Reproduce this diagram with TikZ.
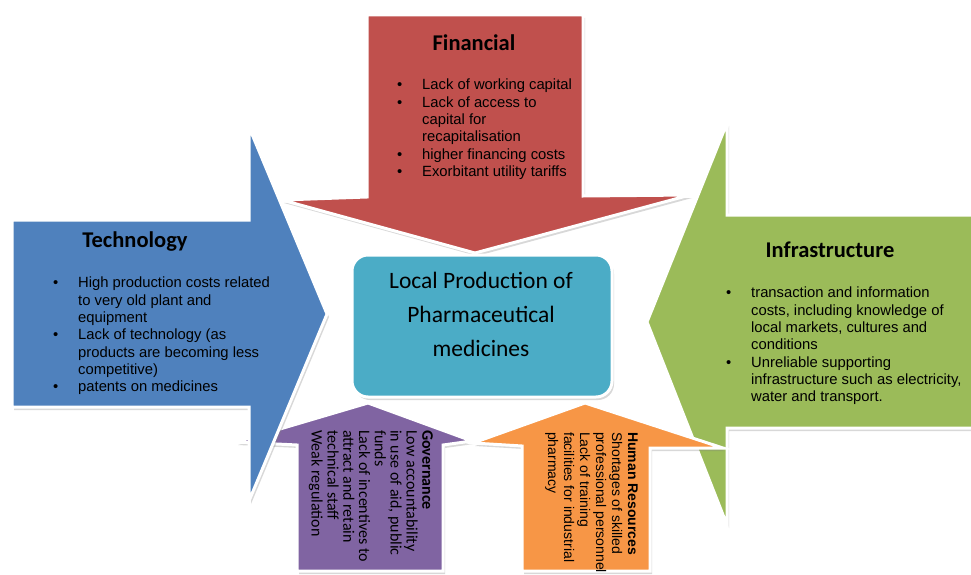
\documentclass[tikz,border=0pt]{standalone}
\usepackage{fontspec}
\setmainfont{Liberation Sans}
\newfontfamily\calfont{Carlito}
\usetikzlibrary{shadows}
\definecolor{finred}{HTML}{C0504D}
\definecolor{techblue}{HTML}{4F81BD}
\definecolor{infragreen}{HTML}{9BBB59}
\definecolor{hubteal}{HTML}{4BACC6}
\definecolor{govpurple}{HTML}{8064A2}
\definecolor{hrorange}{HTML}{F79646}
\newcommand{\bl}{\makebox[25pt][l]{\textbullet}}
\newcommand{\ind}{\hspace*{25pt}}
\tikzset{
	bigarrow/.style={draw=white, line width=3pt, line join=miter,
		drop shadow={shadow xshift=2pt, shadow yshift=-3pt, opacity=0.3}},
	heading/.style={font=\calfont\bfseries\fontsize{22.5}{26}\selectfont},
	items/.style={font=\fontsize{14.8}{17.3}\selectfont, align=left, inner sep=0pt, anchor=north west},
	sideways/.style={align=left, inner sep=0pt, anchor=north west, rotate=-90}
}
\begin{document}
\begin{tikzpicture}[x=1pt, y=-1pt]
	\clip (0,0) rectangle (971,575);
	\fill[white] (0,0) rectangle (971,575);

	\fill[finred, bigarrow] (367,15) -- (583,15) -- (583,196) -- (690,195) -- (475,253) -- (282,200) -- (367,197) -- cycle;
	\fill[govpurple, bigarrow] (368,403) -- (472,441) -- (443,445) -- (443,571) -- (297,571) -- (297,445) -- (236,442) -- cycle;
	\fill[techblue, bigarrow] (12,220) -- (249,220) -- (249,127) -- (327,314) -- (249,501) -- (249,407) -- (12,407) -- cycle;
	\fill[infragreen, bigarrow] (990,215) -- (727,215) -- (727,123) -- (647,322) -- (727,525) -- (727,428) -- (990,428) -- cycle;
	\fill[hrorange, bigarrow] (585,403) -- (723,448) -- (650,448) -- (650,571) -- (522,571) -- (522,446) -- (473,443) -- cycle;

	\node[heading] (fintitle) at (474,43) {Financial};
	\node[items] (finlist) at (397,79) {\bl Lack of working capital\\ \bl Lack of access to\\ \ind capital for\\ \ind recapitalisation\\ \bl higher financing costs\\ \bl Exorbitant utility tariffs};

	\node[heading] (techtitle) at (135,242) {Technology};
	\node[items] (techlist) at (53,277) {\bl High production costs related\\ \ind to very old plant and\\ \ind equipment\\ \bl Lack of technology (as\\ \ind products are becoming less\\ \ind competitive)\\ \bl patents on medicines};

	\node[heading] (infratitle) at (830,250) {Infrastructure};
	\node[items] (infralist) at (726,287) {\bl transaction and information\\ \ind costs, including knowledge of\\ \ind local markets, cultures and\\ \ind conditions\\ \bl Unreliable supporting\\ \ind infrastructure such as electricity,\\ \ind water and transport.};

	\node[sideways, font=\calfont\fontsize{16}{15.8}\selectfont] (govtext) at (433,430) {\textbf{Governance}\\ Low accountability\\ in use of aid, public\\ funds\\ Lack of incentives to\\ attract and retain\\ technical staff\\ Weak regulation};
	\node[sideways, font=\fontsize{14}{16}\selectfont] (hrtext) at (638,432) {\textbf{Human Resources}\\ Shortages of skilled\\ professional personnel\\ Lack of training\\ facilities for industrial\\ pharmacy};

	\node[fill=hubteal, draw=white, line width=3pt, rounded corners=16pt, minimum width=260pt, minimum height=142pt,
		drop shadow={shadow xshift=2pt, shadow yshift=-3pt, opacity=0.3}] (hub) at (482,326) {};
	\node[align=center, font=\calfont\fontsize{23.5}{34}\selectfont] (hubtext) at (481,314) {Local Production of\\ Pharmaceutical\\ medicines};
\end{tikzpicture}
\end{document}
